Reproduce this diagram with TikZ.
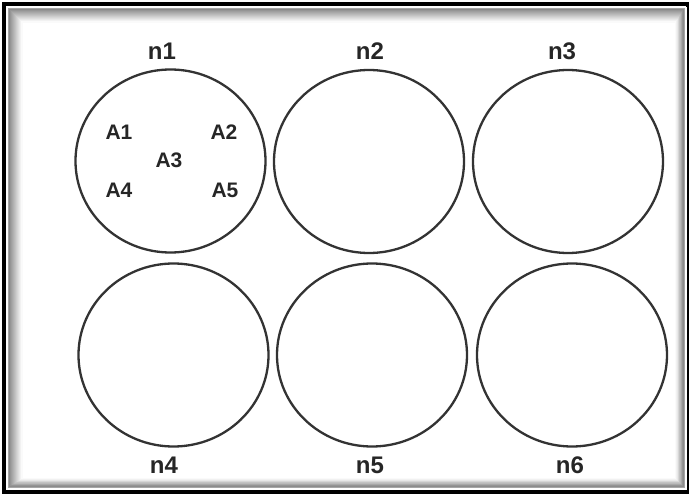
\documentclass[tikz,border=0pt]{standalone}
\usepackage{fontspec}
\setmainfont{Liberation Sans}
\usetikzlibrary{shapes.geometric}
\definecolor{ring}{HTML}{333333}
\tikzset{
  well/.style={ellipse, draw=ring, line width=2.3pt, minimum width=190pt, minimum height=183pt, inner sep=0pt},
  wlabel/.style={font=\fontsize{24}{24}\selectfont\bfseries, text=black!85, inner sep=0pt},
  alabel/.style={font=\fontsize{21}{21}\selectfont\bfseries, text=black!85, inner sep=0pt}
}
\begin{document}
\begin{tikzpicture}[x=1pt,y=-1pt]
\useasboundingbox (0,0) rectangle (689,495);
\fill[white] (0,0) rectangle (689,495);
% inner shadow
\foreach \i in {0,...,12}{
  \pgfmathsetmacro{\g}{45-3.6*\i}
  \draw[black!\g, line width=1.2pt] (10+\i,10+\i) rectangle (683-\i*0.6,486-\i*0.6);
}
\draw[gray!70, line width=1pt] (8.5,8.5) rectangle (684.5,487.5);
\draw[black, line width=4.5pt] (4,4) rectangle (688,492);
\draw[white, line width=0.8pt] (7,7) rectangle (686,489.5);

% wells
\node[well] (n1c) at (170.5,161) {};
\node[well] (n2c) at (369,161.5) {};
\node[well] (n3c) at (568,161.5) {};
\node[well] (n4c) at (173.5,355) {};
\node[well] (n5c) at (372,355) {};
\node[well] (n6c) at (572,355) {};

% labels
\node[wlabel] (n1) at (162,51) {n1};
\node[wlabel] (n2) at (370,51) {n2};
\node[wlabel] (n3) at (562,51) {n3};
\node[wlabel] (n4) at (164,465) {n4};
\node[wlabel] (n5) at (370,465) {n5};
\node[wlabel] (n6) at (570,465) {n6};

\node[alabel] (A1) at (119,132) {A1};
\node[alabel] (A2) at (224,132) {A2};
\node[alabel] (A3) at (169,160) {A3};
\node[alabel] (A4) at (119,190) {A4};
\node[alabel] (A5) at (225,190) {A5};
\end{tikzpicture}
\end{document}
